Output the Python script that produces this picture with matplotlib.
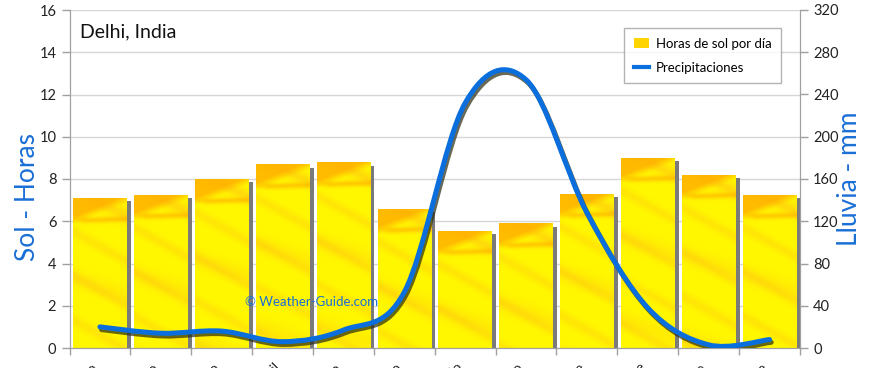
import numpy as np
import matplotlib
matplotlib.use("Agg")
import matplotlib.pyplot as plt
from matplotlib.path import Path
from matplotlib.patches import PathPatch, Patch
from matplotlib.lines import Line2D
import matplotlib.patheffects as pe

months = ["Enero", "Febrero", "Marzo", "Abril", "Mayo", "Junio", "Julio",
          "Agosto", "Septiembre", "Octubre", "Noviembre", "Diciembre"]
sun_hours = [7.1, 7.25, 8.0, 8.7, 8.8, 6.6, 5.55, 5.9, 7.3, 9.0, 8.2, 7.25]
rain_mm = [20, 14, 16, 6, 17, 53, 232, 254, 128, 38, 3, 8]

title = "Delhi, India"
sun_label = "Horas de sol por día"
rain_label = "Precipitaciones"
left_axis_label = "Sol - Horas"
right_axis_label = "Lluvia - mm"
watermark = "© Weather-Guide.com"

plt.rcParams['font.family'] = ['Lato', 'DejaVu Sans']

W, H = 870, 368
fig = plt.figure(figsize=(W / 100, H / 100), dpi=100)
ax = fig.add_axes([69.5 / W, 20 / H, (800 - 69.5) / W, (348 - 10) / H])
ax2 = ax.twinx()

x = np.arange(len(months))
ax.set_xlim(-0.5, len(months) - 0.5)
ax.set_ylim(0, 16)
ax2.set_ylim(0, 320)

# grid
ax.set_yticks(np.arange(0, 17, 2))
ax.yaxis.grid(True, color='#d6d6d6', lw=1.0)
ax.set_axisbelow(True)
ax2.set_yticks(np.arange(0, 321, 40))

# bars with shadow
bw = 0.88
bars = ax.bar(x, sun_hours, width=bw, color='#FFF200', zorder=2,
              path_effects=[pe.SimplePatchShadow(offset=(3, -2.5), shadow_rgbFace='#7a7a7a', alpha=1.0),
                            pe.Normal()])

# decorative texture inside bars
def texture(h_px, w_px=54):
    yy, xx = np.mgrid[0:h_px, 0:w_px].astype(float)
    img = np.zeros((h_px, w_px, 3))
    base = np.array([1.0, 0.97, 0.0])
    orange = np.array([1.0, 0.66, 0.0])
    light = np.array([1.0, 0.82, 0.05])
    s = 0.5 + 0.5 * np.sin((xx * 0.55 - yy) / 7.0)
    s2 = 0.5 + 0.5 * np.sin((xx * 0.35 - yy) / 13.0 + 1.3)
    wgt = 0.45 * s ** 6 + 0.3 * s2 ** 8
    wedge = np.clip((26 - yy - 0.40 * xx) / 8.0, 0, 1) * 0.75
    streak = np.exp(-((yy - 22 + 0.03 * xx) / 3.0) ** 2) * 0.55 * np.clip(xx / 12.0, 0, 1)
    wgt2 = np.clip(wedge + streak, 0, 0.85)
    for c in range(3):
        img[..., c] = base[c] * (1 - wgt) + light[c] * wgt
        img[..., c] = img[..., c] * (1 - wgt2) + orange[c] * wgt2
    return img

px_per_unit = (348 - 10) / 16.0
for b, v in zip(bars, sun_hours):
    h_px = max(int(v * px_per_unit), 2)
    im = ax.imshow(texture(h_px), extent=(b.get_x(), b.get_x() + b.get_width(), 0, v),
                   aspect='auto', origin='upper', zorder=2.5, interpolation='bilinear')
    im.set_clip_path(b)
ax.set_xlim(-0.5, len(months) - 0.5)
ax.set_ylim(0, 16)

# smooth rain line (Catmull-Rom bezier through data points)
pts = np.column_stack([x, rain_mm]).astype(float)
verts = [tuple(pts[0])]
codes = [Path.MOVETO]
n = len(pts)
for i in range(n - 1):
    p0 = pts[i - 1] if i > 0 else pts[i]
    p1 = pts[i]
    p2 = pts[i + 1]
    p3 = pts[i + 2] if i + 2 < n else pts[i + 1]
    c1 = p1 + (p2 - p0) / 6.0
    c2 = p2 - (p3 - p1) / 6.0
    verts += [tuple(c1), tuple(c2), tuple(p2)]
    codes += [Path.CURVE4] * 3
curve = PathPatch(Path(verts, codes), facecolor='none', edgecolor='#0a6fdc', lw=3.6,
                  capstyle='round', zorder=3,
                  path_effects=[pe.SimpleLineShadow(offset=(1.2, -2.0), shadow_color='#2a2a10', alpha=0.7),
                                pe.Normal()])
ax2.add_patch(curve)

# axes styling
for a in (ax, ax2):
    a.spines['top'].set_visible(False)
    a.spines['left'].set_color('#a0a0a0')
    a.spines['right'].set_color('#a0a0a0')
    a.spines['bottom'].set_color('#a0a0a0')
ax.tick_params(axis='y', colors='#a0a0a0', labelcolor='#222222', labelsize=10.5, length=6, width=1)
ax2.tick_params(axis='y', colors='#a0a0a0', labelcolor='#222222', labelsize=10.5, length=6, width=1)
ax.set_xticks(x)
ax.set_xticklabels(months, rotation=45, ha='right', va='top', fontsize=10, color='#222222')
ax.tick_params(axis='x', which='major', length=0, pad=9)
ax.set_xticks(np.arange(-0.5, len(months), 1.0), minor=True)
ax.tick_params(axis='x', which='minor', length=5, colors='#a0a0a0', width=1)

ax.set_ylabel(left_axis_label, color='#1a6fd6', fontsize=19)
ax.yaxis.set_label_coords(-0.041, 0.447)
ax2.set_ylabel(right_axis_label, color='#1a6fd6', fontsize=19)
ax2.yaxis.set_label_coords(1.051, 0.50)

ax.text(0.015, 0.935, title, transform=ax.transAxes, fontsize=14, color='#111111',
        ha='left', va='center')
ax.text(0.24, 0.135, watermark, transform=ax.transAxes, fontsize=9.5, color='#1a6fd6',
        ha='left', va='center', zorder=5)

handles = [Patch(facecolor='#FFD400', edgecolor='none'),
           Line2D([0], [0], color='#0a6fdc', lw=3)]
leg = ax2.legend(handles, [sun_label, rain_label], loc='upper right',
                 bbox_to_anchor=(0.983, 0.965), fontsize=9.5, frameon=True, fancybox=False,
                 edgecolor='#a0a0a0', handlelength=1.2, handleheight=0.7, borderpad=0.7,
                 labelspacing=0.9, handletextpad=0.5)
leg.get_frame().set_linewidth(1.0)

fig.savefig("out.png", dpi=100)
